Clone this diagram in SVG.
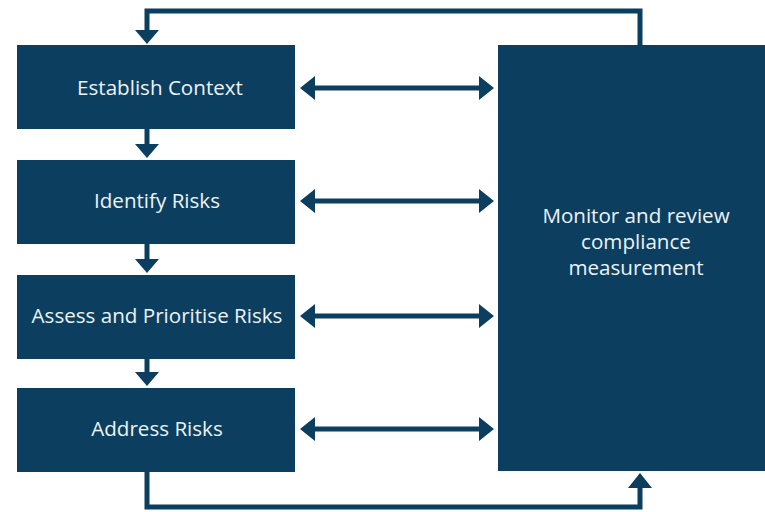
<svg xmlns="http://www.w3.org/2000/svg" width="765" height="512" viewBox="0 0 765 512">
<defs>
<style>
.box{fill:#0c3f5f}
.lbl{font-family:"Open Sans","Liberation Sans",sans-serif;font-size:20.6px;fill:#eef3f6;text-anchor:middle}
.ln{stroke:#0c3f5f;stroke-width:5;fill:none}
.hd{fill:#0c3f5f}
</style>
</defs>
<rect width="765" height="512" fill="#ffffff"/>
<g id="establish"><rect class="box" x="17" y="45" width="278" height="84"/><text class="lbl" x="160" y="95">Establish Context</text></g>
<g id="identify"><rect class="box" x="17" y="160" width="278" height="84"/><text class="lbl" x="157" y="208">Identify Risks</text></g>
<g id="assess"><rect class="box" x="17" y="275" width="278" height="84"/><text class="lbl" x="157" y="323">Assess and Prioritise Risks</text></g>
<g id="address"><rect class="box" x="17" y="388" width="278" height="84"/><text class="lbl" x="157" y="436">Address Risks</text></g>
<g id="monitor"><rect class="box" x="498" y="45" width="267" height="426"/>
<text class="lbl" x="636" y="223">Monitor and review</text>
<text class="lbl" x="636" y="249">compliance</text>
<text class="lbl" x="636" y="275">measurement</text></g>
<g id="connectors">
<path class="ln" d="M640,45 V11 H147 V32"/>
<path class="hd" d="M135,30 H159 L147,44 Z"/>
<path class="ln" d="M147,129 V146"/><path class="hd" d="M135,144 H159 L147,158 Z"/>
<path class="ln" d="M147,244 V261"/><path class="hd" d="M135,259 H159 L147,273 Z"/>
<path class="ln" d="M147,359 V374"/><path class="hd" d="M135,372 H159 L147,386 Z"/>
<path class="ln" d="M147,472 V507 H640 V486"/>
<path class="hd" d="M628,488 H652 L640,473 Z"/>
<g id="bidir">
<path class="ln" d="M312,88 H482"/><path class="hd" d="M300,88 L315,76 V100 Z M494,88 L479,76 V100 Z"/>
<path class="ln" d="M312,201 H482"/><path class="hd" d="M300,201 L315,189 V213 Z M494,201 L479,189 V213 Z"/>
<path class="ln" d="M312,316 H482"/><path class="hd" d="M300,316 L315,304 V328 Z M494,316 L479,304 V328 Z"/>
<path class="ln" d="M312,429 H482"/><path class="hd" d="M300,429 L315,417 V441 Z M494,429 L479,417 V441 Z"/>
</g>
</g>
</svg>
